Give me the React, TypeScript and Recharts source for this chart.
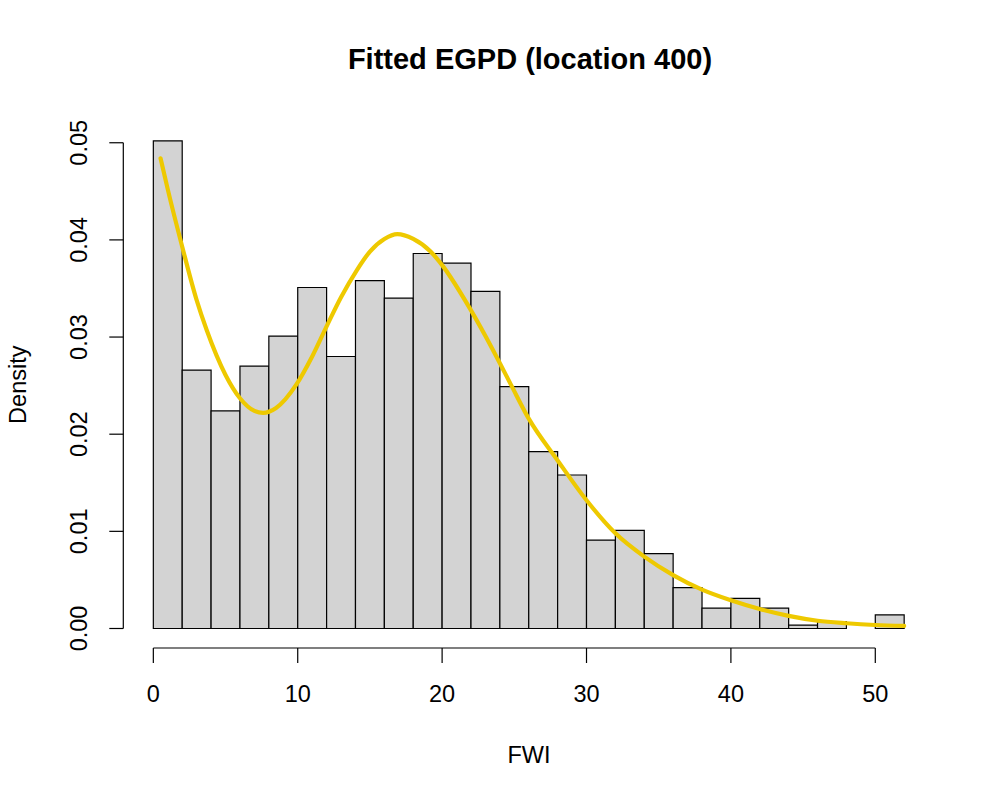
import React from "react";
import {
  ComposedChart,
  Line,
  XAxis,
  YAxis,
  ReferenceArea,
  ReferenceLine,
} from "recharts";

// histogram breaks (FWI) and densities per bin
const breaks = [
  0, 2, 4, 6, 8, 10, 12, 14, 16, 18, 20, 22, 24, 26, 28, 30, 32, 34, 36, 38,
  40, 42, 44, 46, 48, 50, 52,
];
const density = [
  0.0502, 0.0266, 0.0224, 0.027, 0.0301, 0.0351, 0.028, 0.0358, 0.034, 0.0386,
  0.0376, 0.0347, 0.0249, 0.0182, 0.0158, 0.0091, 0.0101, 0.0077, 0.0042,
  0.0021, 0.0031, 0.0021, 0.00035, 0.0007, 0, 0.0014,
];

// fitted EGPD density curve
const curveX = [
  0.5, 1, 2, 3, 3.7, 5, 6, 7, 7.6, 8.5, 9.9, 11, 12, 13, 14.1, 15, 16, 16.9,
  18, 19.2, 20, 21.9, 23, 24, 24.8, 26, 28, 30, 32, 34, 36, 38, 40, 42, 44, 46,
  48, 50, 52,
];
const curveD = [
  0.0484, 0.0452, 0.0393, 0.0338, 0.0307, 0.0261, 0.0237, 0.0224, 0.0222,
  0.0227, 0.0251, 0.028, 0.0311, 0.0341, 0.0369, 0.0388, 0.0401, 0.0406,
  0.0401, 0.0388, 0.0374, 0.033, 0.0301, 0.0273, 0.025, 0.0216, 0.0173,
  0.0132, 0.0098, 0.0074, 0.0055, 0.004, 0.0029, 0.002, 0.0013, 0.0008,
  0.00054, 0.00036, 0.00026,
];

const xTicks = [0, 10, 20, 30, 40, 50];
const yTicks = [0, 0.01, 0.02, 0.03, 0.04, 0.05];

const curve = curveX.map((x, i) => ({ x, d: curveD[i] }));

const FONT = "'Liberation Sans', Arial, Helvetica, sans-serif";

// R-style axis limits: range extended by 4%
const xLo = breaks[0];
const xHi = breaks[breaks.length - 1];
const xPad = (xHi - xLo) * 0.04;
const yMax = Math.max(...density);
const yPad = yMax * 0.04;
const xDomain = [xLo - xPad, xHi + xPad];
const yDomain = [-yPad, yMax + yPad];

function XTick({ x, y, payload }: any) {
  return (
    <text
      x={x}
      y={y + 39}
      textAnchor="middle"
      fontFamily={FONT}
      fontSize={23.5}
      fill="#000"
    >
      {payload.value}
    </text>
  );
}

function YTick({ x, y, payload }: any) {
  const tx = x - 22.5;
  return (
    <text
      x={tx}
      y={y}
      textAnchor="middle"
      transform={`rotate(-90, ${tx}, ${y})`}
      fontFamily={FONT}
      fontSize={23.5}
      fill="#000"
    >
      {payload.value.toFixed(2)}
    </text>
  );
}

export default function App() {
  return (
    <div
      style={{
        position: "absolute",
        left: 0,
        top: 0,
        width: 996,
        height: 802,
        background: "#fff",
      }}
    >
      <ComposedChart
        width={996}
        height={802}
        data={curve}
        margin={{ top: 121.3, right: 61.8, bottom: 94, left: 63.3 }}
      >
        <XAxis
          type="number"
          dataKey="x"
          domain={xDomain}
          allowDataOverflow
          ticks={xTicks}
          interval={0}
          height={60}
          tickSize={15}
          tickMargin={0}
          axisLine={false}
          tickLine={{ stroke: "#000", strokeWidth: 1.2 }}
          tick={<XTick />}
        />
        <YAxis
          type="number"
          domain={yDomain}
          allowDataOverflow
          ticks={yTicks}
          interval={0}
          width={60}
          tickSize={14}
          tickMargin={0}
          axisLine={false}
          tickLine={{ stroke: "#000", strokeWidth: 1.2 }}
          tick={<YTick />}
        />
        {density.map((d, i) => (
          <ReferenceArea
            key={`bin-${i}`}
            x1={breaks[i]}
            x2={breaks[i + 1]}
            y1={0}
            y2={d}
            fill="#D3D3D3"
            fillOpacity={1}
            stroke="#000"
            strokeWidth={1.2}
            ifOverflow="visible"
          />
        ))}
        <ReferenceLine
          segment={[
            { x: xTicks[0], y: yDomain[0] },
            { x: xTicks[xTicks.length - 1], y: yDomain[0] },
          ]}
          stroke="#000"
          strokeWidth={1.2}
          ifOverflow="visible"
        />
        <ReferenceLine
          segment={[
            { x: xDomain[0], y: yTicks[0] },
            { x: xDomain[0], y: yTicks[yTicks.length - 1] },
          ]}
          stroke="#000"
          strokeWidth={1.2}
          ifOverflow="visible"
        />
        <Line
          type="monotone"
          dataKey="d"
          stroke="#EEC900"
          strokeWidth={4.2}
          strokeLinecap="round"
          dot={false}
          activeDot={false}
          isAnimationActive={false}
        />
      </ComposedChart>
      <svg
        width={996}
        height={802}
        style={{ position: "absolute", left: 0, top: 0, pointerEvents: "none" }}
      >
        <text
          x={530}
          y={69.3}
          textAnchor="middle"
          fontFamily={FONT}
          fontWeight="bold"
          fontSize={29}
          fill="#000"
        >
          Fitted EGPD (location 400)
        </text>
        <text
          x={529}
          y={762.7}
          textAnchor="middle"
          fontFamily={FONT}
          fontSize={23.5}
          fill="#000"
        >
          FWI
        </text>
        <text
          x={26}
          y={384.7}
          textAnchor="middle"
          transform="rotate(-90, 26, 384.7)"
          fontFamily={FONT}
          fontSize={23.5}
          fill="#000"
        >
          Density
        </text>
      </svg>
    </div>
  );
}
